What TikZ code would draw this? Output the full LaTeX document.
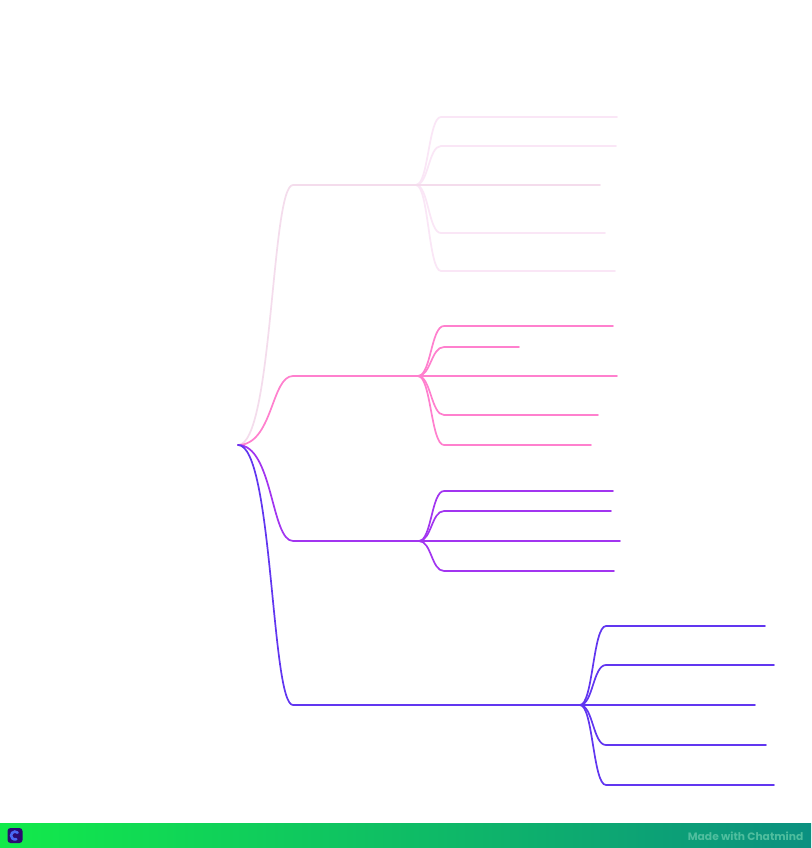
\documentclass[tikz,border=0pt]{standalone}
\usepackage{fontspec}
\setmainfont{Poppins}
\usetikzlibrary{calc}
\definecolor{paleB}{HTML}{F4DCEC}
\definecolor{paleC}{HTML}{FAE6F6}
\definecolor{pinkB}{HTML}{FF80CE}
\definecolor{purpB}{HTML}{A235F0}
\definecolor{blueB}{HTML}{6136F0}
\definecolor{barL}{HTML}{12EA4A}
\definecolor{barR}{HTML}{0B9080}
\definecolor{barText}{HTML}{4FBE9E}
\definecolor{logoBg}{HTML}{2B0A72}
\tikzset{
  x=1pt,y=-1pt,
  lnk/.style={line width=1.7pt,line cap=round},
}
\newcommand{\kid}[6]{% colour, hub, start x, y, end x, name
  \coordinate (#6s) at (#3,#4);
  \coordinate (#6e) at (#5,#4);
  \draw[lnk,#1] (#2) .. controls ($(#2)!0.5!(#2-|#6s)$) and ($(#2|-#6s)!0.5!(#6s)$) .. (#6s) -- (#6e);
}
\newcommand{\midkid}[5]{% colour, hub, y, end x, name
  \coordinate (#5e) at (#4,#3);
  \draw[lnk,#1] (#2) -- (#5e);
}
\begin{document}
\begin{tikzpicture}
\useasboundingbox (0,0) rectangle (811,848);
\fill[white] (0,0) rectangle (811,848);
\coordinate (root) at (238,445);
\coordinate (h1) at (416,185);
\coordinate (h2) at (418,376);
\coordinate (h3) at (419,541);
\coordinate (h4) at (580,705);
\coordinate (b1) at (293,185);
\coordinate (b2) at (293,376);
\coordinate (b3) at (293,541);
\coordinate (b4) at (293,705);
% first branch
\kid{paleC}{h1}{441}{117}{617}{a1}
\kid{paleC}{h1}{441}{146}{616}{a2}
\kid{paleC}{h1}{441}{233}{605}{a4}
\kid{paleC}{h1}{441}{271}{615}{a5}
\midkid{paleB}{h1}{185}{600}{a3}
\draw[lnk,paleB] (root) .. controls (273,445) and (271,185) .. (b1) -- (h1);
% second branch
\kid{pinkB}{h2}{444}{326}{613}{c1}
\kid{pinkB}{h2}{444}{347}{519}{c2}
\midkid{pinkB}{h2}{376}{617}{c3}
\kid{pinkB}{h2}{444}{415}{598}{c4}
\kid{pinkB}{h2}{444}{445}{591}{c5}
\draw[lnk,pinkB] (root) .. controls (273,445) and (271,376) .. (b2) -- (h2);
% third branch
\kid{purpB}{h3}{444}{491}{613}{d1}
\kid{purpB}{h3}{444}{511}{611}{d2}
\midkid{purpB}{h3}{541}{620}{d3}
\kid{purpB}{h3}{444}{571}{614}{d4}
\draw[lnk,purpB] (root) .. controls (273,445) and (271,541) .. (b3) -- (h3);
% fourth branch
\kid{blueB}{h4}{606}{626}{765}{e1}
\kid{blueB}{h4}{606}{665}{774}{e2}
\midkid{blueB}{h4}{705}{755}{e3}
\kid{blueB}{h4}{606}{745}{766}{e4}
\kid{blueB}{h4}{606}{785}{774}{e5}
\draw[lnk,blueB] (root) .. controls (273,445) and (271,705) .. (b4) -- (h4);
% footer
\shade[left color=barL,right color=barR] (0,823) rectangle (811,848);
\fill[logoBg,rounded corners=3pt] (7.5,828) rectangle (22.5,843);
\draw[line width=2.6pt,blueB!75!cyan,line cap=round] (17.6,832.6) arc[start angle=-48,end angle=-290,radius=3.9];
\node[anchor=east,text=barText,font=\fontsize{10.7}{12}\selectfont\bfseries,inner sep=0pt] (brand) at (803.5,836) {Made with Chatmind};
\end{tikzpicture}
\end{document}
